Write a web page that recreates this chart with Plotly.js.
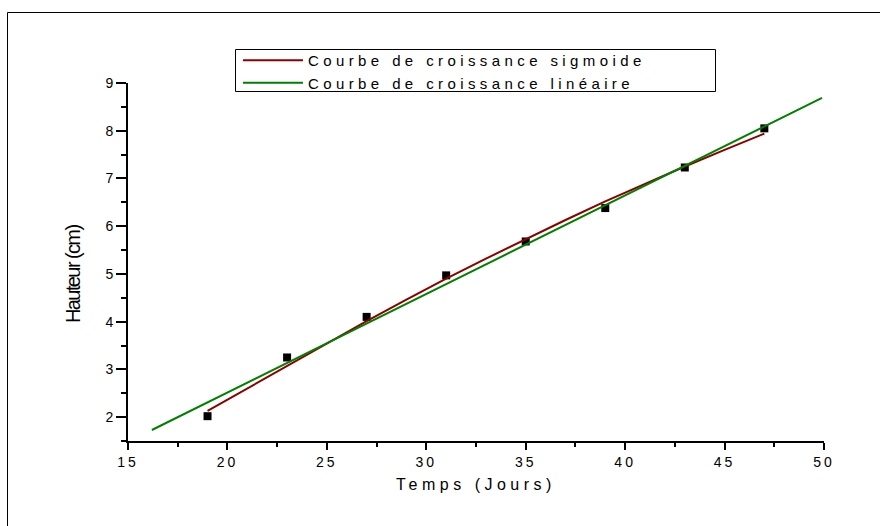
<!DOCTYPE html>
<html>
<head>
<meta charset="utf-8">
<script src="https://cdn.plot.ly/plotly-3.0.1.min.js"></script>
<style>
  html, body { margin: 0; padding: 0; background: #fff; }
  #chart { width: 880px; height: 526px; }
</style>
</head>
<body>
<div id="chart"></div>
<script>
// Observed heights (black squares)
const obsDays = [19, 23, 27, 31, 35, 39, 43, 47];
const obsHeight = [2.02, 3.25, 4.10, 4.97, 5.68, 6.38, 7.23, 8.05];

// Sigmoid growth curve
const sigDays = [19, 21, 23, 25, 27, 29, 31, 33, 35, 37, 39, 41, 43, 45, 47];
const sigHeight = [2.13, 2.60, 3.07, 3.54, 4.01, 4.46, 4.90, 5.32, 5.73, 6.13, 6.52, 6.89, 7.25, 7.60, 7.94];

// Linear growth curve (end points)
const linDays = [16.2, 49.9];
const linHeight = [1.73, 8.69];

const seriesNames = ['Courbe de croissance sigmoide', 'Courbe de croissance linéaire'];
const xTickVals = [15, 20, 25, 30, 35, 40, 45, 50];
const yTickVals = [2, 3, 4, 5, 6, 7, 8, 9];

const FONT = 'Liberation Sans, Arial, sans-serif';
const sp = (t, s) => '<span style="letter-spacing:' + s + 'px">' + t + '</span>';

const traces = [
  {
    x: obsDays, y: obsHeight, type: 'scatter', mode: 'markers',
    marker: { symbol: 'square', size: 8, color: '#000000' },
    showlegend: false, hoverinfo: 'x+y'
  },
  {
    x: sigDays, y: sigHeight, type: 'scatter', mode: 'lines',
    name: sp(seriesNames[0], 4.4),
    line: { color: '#8b0000', width: 2 }
  },
  {
    x: linDays, y: linHeight, type: 'scatter', mode: 'lines',
    name: sp(seriesNames[1], 4.4),
    line: { color: '#008000', width: 2 }
  }
];

const layout = {
  width: 880, height: 526,
  margin: { l: 128, r: 56, t: 83, b: 85 },
  paper_bgcolor: '#ffffff', plot_bgcolor: '#ffffff',
  font: { family: FONT, size: 14, color: '#000' },
  xaxis: {
    range: [15, 50], tickvals: xTickVals, ticktext: xTickVals.map(v => sp(String(v), 3)),
    showgrid: false, zeroline: false, showline: true, linecolor: '#000', linewidth: 2,
    ticks: 'outside', ticklen: 7, tickwidth: 2, tickcolor: '#000',
    minor: { dtick: 2.5, ticks: 'outside', ticklen: 4, tickwidth: 2, tickcolor: '#000', showgrid: false },
    tickfont: { family: FONT, size: 14 },
    title: { text: sp('Temps (Jours)', 4.5), font: { family: FONT, size: 16 }, standoff: 10 }
  },
  yaxis: {
    range: [1.5, 9], tickvals: yTickVals, ticktext: yTickVals.map(String),
    showgrid: false, zeroline: false, showline: true, linecolor: '#000', linewidth: 2,
    ticks: 'outside', ticklen: 10, tickwidth: 2, tickcolor: '#000',
    minor: { dtick: 0.5, ticks: 'outside', ticklen: 5, tickwidth: 2, tickcolor: '#000', showgrid: false },
    tickfont: { family: FONT, size: 14 }
  },
  legend: {
    x: 0.158, y: 1.109, xanchor: 'left', yanchor: 'top',
    bgcolor: 'rgba(0,0,0,0)', borderwidth: 0,
    font: { family: FONT, size: 15, color: '#000' },
    itemwidth: 60, traceorder: 'normal'
  },
  annotations: [
    {
      text: sp('Hauteur (cm)', -1.6), textangle: -90, xref: 'paper', yref: 'paper',
      x: (73 - 128) / 696, y: (441 - 274) / 358, xanchor: 'center', yanchor: 'middle',
      showarrow: false,
      font: { family: FONT, size: 20, color: '#000' }
    }
  ],
  shapes: [
    { type: 'rect', xref: 'paper', yref: 'paper', x0: (7.5 - 128) / 696, x1: 1.2, y0: -0.3, y1: (441 - 12.5) / 358,
      line: { color: '#000', width: 1 }, fillcolor: 'rgba(0,0,0,0)', layer: 'below' },
    { type: 'rect', xref: 'paper', yref: 'paper', x0: (235.5 - 128) / 696, x1: (715.5 - 128) / 696,
      y0: (441 - 91.5) / 358, y1: (441 - 49.5) / 358,
      line: { color: '#000', width: 1 }, fillcolor: 'rgba(0,0,0,0)' }
  ]
};

Plotly.newPlot('chart', traces, layout, { displayModeBar: false, staticPlot: true }).then(function (gd) {
  // Origin-style wide letter spacing on the bottom tick labels
  gd.querySelectorAll('g.xtick text').forEach(function (t) {
    t.setAttribute('letter-spacing', '3');
    t.style.letterSpacing = '3px';
    t.querySelectorAll('tspan').forEach(function (s) { s.style.letterSpacing = '3px'; });
  });
});
</script>
</body>
</html>
